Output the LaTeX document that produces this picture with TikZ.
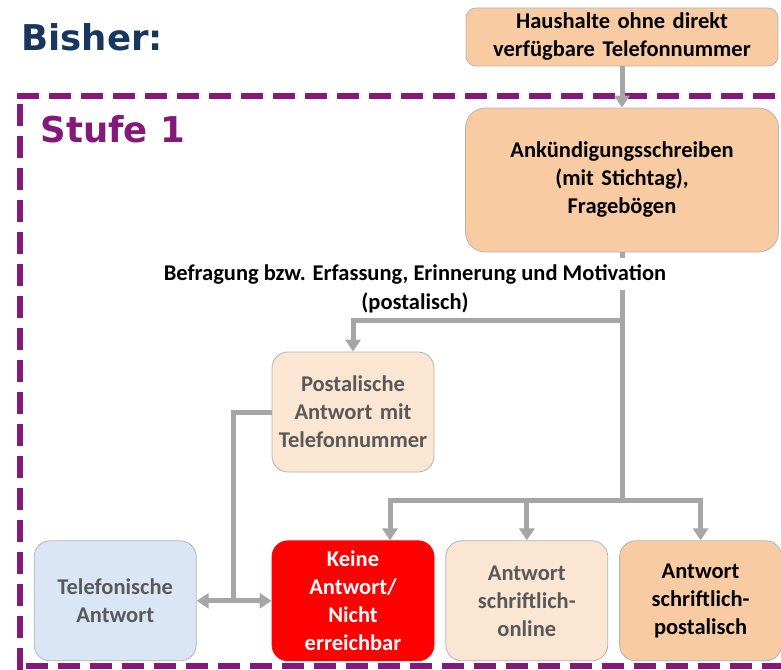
\documentclass[tikz,border=0pt]{standalone}
\usepackage{fontspec}
\setmainfont{Carlito}
\newfontfamily\headfont{DejaVu Sans}
\usetikzlibrary{arrows.meta,positioning}
\definecolor{navy}{HTML}{17375E}
\definecolor{stufecol}{HTML}{84197A}
\definecolor{flowgray}{HTML}{A6A6A6}
\definecolor{boxline}{HTML}{B4B4B4}
\definecolor{peach}{HTML}{F8CBA3}
\definecolor{lightpeach}{HTML}{FBE5D3}
\definecolor{lightblue}{HTML}{DAE6F6}
\definecolor{textgray}{HTML}{595959}

\begin{document}
\begin{tikzpicture}[x=1pt,y=-1pt,>={Triangle[width=15pt,length=12pt]},
  box/.style={rectangle,rounded corners=16pt,draw=boxline,line width=0.8pt,
    minimum width=162pt,minimum height=120pt,inner sep=2pt,align=center,
    text width=158pt,font=\fontsize{22.5}{28}\selectfont\bfseries},
  main box/.style={box,fill=peach,text=black},
  light box/.style={box,fill=lightpeach,text=textgray},
  tel box/.style={box,fill=lightblue,text=textgray},
  red box/.style={box,fill=red,draw=red,text=white},
  label text/.style={font=\fontsize{22.5}{30}\selectfont\bfseries,inner xsep=2pt,inner ysep=6pt},
  flow/.style={draw=flowgray,line width=5pt},
  frame/.style={draw=stufecol,line width=6pt,dash pattern=on 22pt off 10pt}]
  \useasboundingbox (0,0) rectangle (781,669);

  % frame of Stufe 1
  \begin{scope}
    \clip (0,0) rectangle (781,669);
    \draw[frame] (17,96) -- (800,96);
    \draw[frame] (20,104) -- (20,680);
    \draw[frame] (26,666) -- (800,666);
  \end{scope}

  \node[font=\headfont\bfseries\fontsize{35.5}{40}\selectfont,text=navy,anchor=base west] (bisher) at (18,51) {Bisher:};
  \node[font=\headfont\bfseries\fontsize{35.5}{40}\selectfont,text=stufecol,anchor=base west] (stufe) at (37,142) {Stufe 1};

  \node[main box,minimum width=312pt,minimum height=58pt,text width=304pt,rounded corners=10pt] (hh) at (622,37) {Haushalte ohne direkt\\verfügbare Telefonnummer};
  \node[main box,minimum width=313pt,minimum height=144pt,text width=304pt,rounded corners=20pt] (ank) at (622,180) {Ankündigungsschreiben\\(mit Stichtag),\\Fragebögen};

  \node[light box] (post) at (353,412) {Postalische\\Antwort mit\\Telefonnummer};
  \node[red box] (keine) [below=68pt of post] {Keine\\Antwort/\\Nicht\\erreichbar};
  \node[light box] (online) [right=11pt of keine] {Antwort\\schriftlich-\\online};
  \node[main box] (postal) [right=11pt of online] {Antwort\\schriftlich-\\postalisch};
  \node[tel box] (tel) [left=75pt of keine] {Telefonische\\Antwort};

  \coordinate (split1) at (622,320);
  \coordinate (split2) at (622,500);
  \coordinate (keinein) at ([xshift=37pt]keine.north);
  \coordinate (teljoin) at (233,600);

  \draw[flow,->] (hh) -- (ank);
  \draw[flow] (ank.south) -- (split2);
  \draw[flow,->] (split1) -| (post.north);
  \draw[flow,->] (split2) -| (keinein);
  \draw[flow,->] (split2) -| (postal.north);
  \draw[flow,->] (online.north |- split2) -- (online.north);
  \draw[flow] (post.west) -| (teljoin);
  \draw[flow,<->] (tel.east) -- (keine.west);

  \node[label text,fill=white] (befr) at (415,274) {Befragung bzw. Erfassung, Erinnerung und Motivation};
  \node[label text] (befrpost) at (415,303) {(postalisch)};
\end{tikzpicture}
\end{document}
